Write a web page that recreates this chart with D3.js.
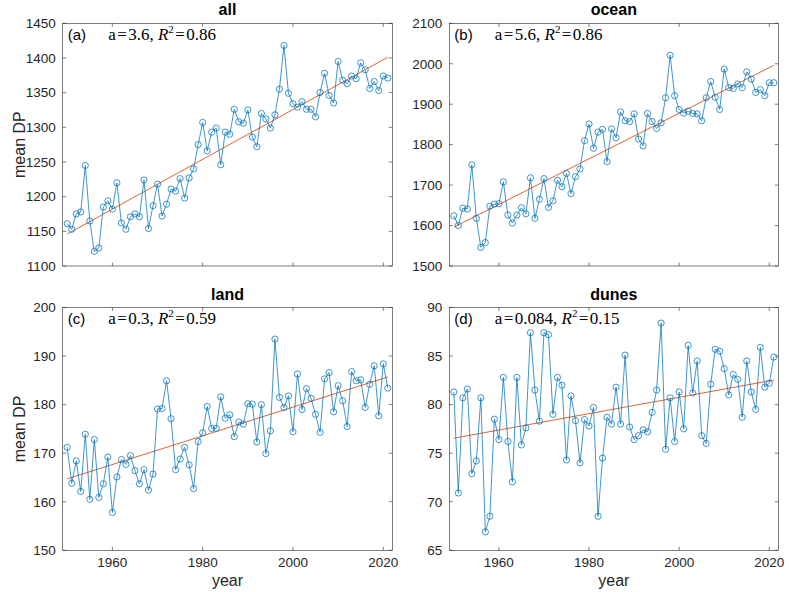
<!DOCTYPE html>
<html>
<head>
<meta charset="utf-8">
<script src="https://cdn.jsdelivr.net/npm/d3@7"></script>
<style>
  html, body { margin: 0; padding: 0; background: #fff; }
  svg { display: block; }
</style>
</head>
<body>
<svg id="chart" width="789" height="592"></svg>
<script>
// ---------------- data ----------------
const firstYear = 1950, lastYear = 2021;
const years = d3.range(firstYear, lastYear + 1);

const allDP = [1161,1153,1175,1178,1245,1165,1121,1126,1185,1194,
  1182,1220,1162,1153,1171,1175,1171,1224,1154,1187,
  1218,1172,1189,1211,1208,1226,1198,1227,1240,1275,
  1307,1266,1293,1299,1246,1293,1290,1326,1308,1306,
  1325,1286,1272,1320,1312,1299,1318,1355,1418,1349,
  1334,1329,1337,1326,1326,1315,1350,1378,1346,1335,
  1395,1368,1363,1374,1370,1393,1383,1356,1366,1353,
  1374,1371];

const oceanDP = [1624,1600,1643,1641,1750,1618,1546,1558,1648,1653,
  1654,1708,1626,1606,1626,1644,1629,1718,1618,1665,
  1716,1645,1661,1712,1696,1729,1679,1721,1740,1810,
  1851,1791,1831,1838,1758,1839,1817,1881,1859,1857,
  1876,1814,1797,1877,1857,1840,1854,1916,2021,1921,
  1887,1878,1883,1877,1876,1859,1916,1956,1917,1887,
  1987,1941,1939,1950,1941,1980,1962,1929,1936,1921,
  1953,1953];

const landDP = [171.2,163.8,168.4,162.1,173.9,160.5,172.8,160.9,163.7,169.2,
  157.8,165.1,168.7,167.7,169.5,166.4,163.7,166.6,162.4,165.7,
  179.1,179.2,184.9,177.1,166.6,168.8,171.2,167.6,162.7,172.4,
  174.2,179.6,175.1,175.1,181.6,177.2,177.9,173.4,176.4,176.0,
  180.2,180.1,172.3,180.0,169.9,174.6,193.5,181.5,179.4,181.8,
  174.4,186.3,179.0,183.3,181.3,178.0,174.3,185.3,186.6,178.5,
  183.9,180.8,175.5,186.8,184.9,185.1,179.4,184.2,188.0,177.7,
  188.4,183.4];

const dunesDP = [81.3,70.9,80.7,81.6,72.9,74.2,80.7,66.9,68.5,78.5,
  76.4,82.8,76.2,72.05,82.8,75.85,77.6,87.4,81.5,78.3,
  87.4,87.2,79.0,82.8,82.0,74.3,80.9,78.35,74.0,78.45,
  77.8,79.7,68.5,74.5,78.7,78.0,81.8,78.0,85.1,77.7,
  76.4,76.8,77.4,77.2,79.2,81.5,88.4,75.4,80.7,76.2,
  81.3,77.5,86.1,81.2,84.5,76.8,76.0,82.1,85.7,85.5,
  83.7,81.0,83.1,82.6,78.7,84.5,81.3,79.5,85.9,81.8,
  82.2,84.9];

const panelTitles = ["all", "ocean", "land", "dunes"];
const panelLetters = ["(a)", "(b)", "(c)", "(d)"];
const slopeLabels = ["3.6", "5.6", "0.3", "0.084"];
const r2Labels = ["0.86", "0.86", "0.59", "0.15"];
const xDomain = [1949, 2022];
const xTicks = [1960, 1980, 2000, 2020];
const yDomains = [[1100, 1450], [1500, 2100], [150, 200], [65, 90]];
const yTickSteps = [50, 100, 10, 5];
const seriesList = [allDP, oceanDP, landDP, dunesDP];

// ---------------- layout ----------------
const colX = [[62.7, 392.3], [449.3, 778.3]];
const rowY = [[23.3, 266], [307.5, 550.3]];
const blue = "#0072BD", orange = "#D95319", axisCol = "#262626";
const sans = "'Liberation Sans', Arial, Helvetica, sans-serif";
const serif = "'Liberation Serif', 'Times New Roman', serif";
const hs = "\u200A";

const svg = d3.select("#chart");

function linreg(xs, ys) {
  const mx = d3.mean(xs), my = d3.mean(ys);
  let sxy = 0, sxx = 0;
  xs.forEach((x, i) => { sxy += (x - mx) * (ys[i] - my); sxx += (x - mx) * (x - mx); });
  const b = sxy / sxx;
  return { slope: b, intercept: my - b * mx };
}

seriesList.forEach((vals, i) => {
  const col = i % 2, row = Math.floor(i / 2);
  const [x0, x1] = colX[col], [y0, y1] = rowY[row];
  const x = d3.scaleLinear().domain(xDomain).range([x0, x1]);
  const y = d3.scaleLinear().domain(yDomains[i]).range([y1, y0]);
  const yTicks = d3.range(yDomains[i][0], yDomains[i][1] + 1e-9, yTickSteps[i]);
  const g = svg.append("g");
  const tickLen = 3.5;

  // box
  g.append("rect").attr("x", x0).attr("y", y0).attr("width", x1 - x0).attr("height", y1 - y0)
    .attr("fill", "none").attr("stroke", axisCol).attr("stroke-width", 0.6);

  // ticks on all four sides (inward)
  xTicks.forEach(t => {
    g.append("line").attr("x1", x(t)).attr("x2", x(t)).attr("y1", y1).attr("y2", y1 - tickLen)
      .attr("stroke", axisCol).attr("stroke-width", 0.6);
    g.append("line").attr("x1", x(t)).attr("x2", x(t)).attr("y1", y0).attr("y2", y0 + tickLen)
      .attr("stroke", axisCol).attr("stroke-width", 0.6);
  });
  yTicks.forEach(t => {
    g.append("line").attr("x1", x0).attr("x2", x0 + tickLen).attr("y1", y(t)).attr("y2", y(t))
      .attr("stroke", axisCol).attr("stroke-width", 0.6);
    g.append("line").attr("x1", x1).attr("x2", x1 - tickLen).attr("y1", y(t)).attr("y2", y(t))
      .attr("stroke", axisCol).attr("stroke-width", 0.6);
  });

  // y tick labels
  g.selectAll(".ytl").data(yTicks).enter().append("text")
    .attr("x", x0 - 7).attr("y", d => y(d) + 4.8)
    .attr("text-anchor", "end").attr("font-family", sans).attr("font-size", 13.5)
    .attr("fill", axisCol).text(d => d);

  // x tick labels (bottom row only)
  if (row === 1) {
    g.selectAll(".xtl").data(xTicks).enter().append("text")
      .attr("x", d => x(d)).attr("y", y1 + 17)
      .attr("text-anchor", "middle").attr("font-family", sans).attr("font-size", 13.5)
      .attr("fill", axisCol).text(d => d);
    g.append("text").attr("x", (x0 + x1) / 2).attr("y", 586)
      .attr("text-anchor", "middle").attr("font-family", sans).attr("font-size", 16)
      .attr("fill", axisCol).text("year");
  }
  // y label (left column only)
  if (col === 0) {
    const cy = (y0 + y1) / 2;
    g.append("text").attr("transform", `translate(25,${cy}) rotate(-90)`)
      .attr("text-anchor", "middle").attr("font-family", sans).attr("font-size", 16)
      .attr("fill", axisCol).text("mean DP");
  }

  // title
  g.append("text").attr("x", (x0 + x1) / 2).attr("y", y0 - 8)
    .attr("text-anchor", "middle").attr("font-family", sans).attr("font-size", 16)
    .attr("font-weight", "bold").attr("fill", "#000").text(panelTitles[i]);

  // fit line
  const fit = linreg(years, vals);
  const fx = [years[0], years[years.length - 1]];
  g.append("path")
    .attr("d", d3.line().x(d => x(d)).y(d => y(fit.intercept + fit.slope * d))(fx))
    .attr("stroke", orange).attr("stroke-width", 0.9).attr("fill", "none");

  // data line + markers
  const pts = years.map((yr, k) => [yr, vals[k]]);
  g.append("path")
    .attr("d", d3.line().x(d => x(d[0])).y(d => y(d[1]))(pts))
    .attr("stroke", blue).attr("stroke-width", 0.75).attr("fill", "none");
  g.selectAll(".pt").data(pts).enter().append("circle")
    .attr("cx", d => x(d[0])).attr("cy", d => y(d[1])).attr("r", 3.1)
    .attr("fill", "none").attr("stroke", blue).attr("stroke-width", 0.75);

  // annotations
  g.append("text").attr("x", x0 + 5).attr("y", y0 + 16.5)
    .attr("font-family", sans).attr("font-size", 15).attr("fill", "#000").text(panelLetters[i]);
  const t = g.append("text").attr("x", x0 + 45.5).attr("y", y0 + 16.5)
    .attr("font-family", serif).attr("font-size", 17).attr("fill", "#000");
  t.append("tspan").text(`a${hs}=${hs}${slopeLabels[i]}, `);
  t.append("tspan").attr("font-style", "italic").text("R");
  t.append("tspan").attr("font-size", 11).attr("dy", -7).text("2");
  t.append("tspan").attr("dy", 7).text(`${hs}=${hs}${r2Labels[i]}`);
});
</script>
</body>
</html>
